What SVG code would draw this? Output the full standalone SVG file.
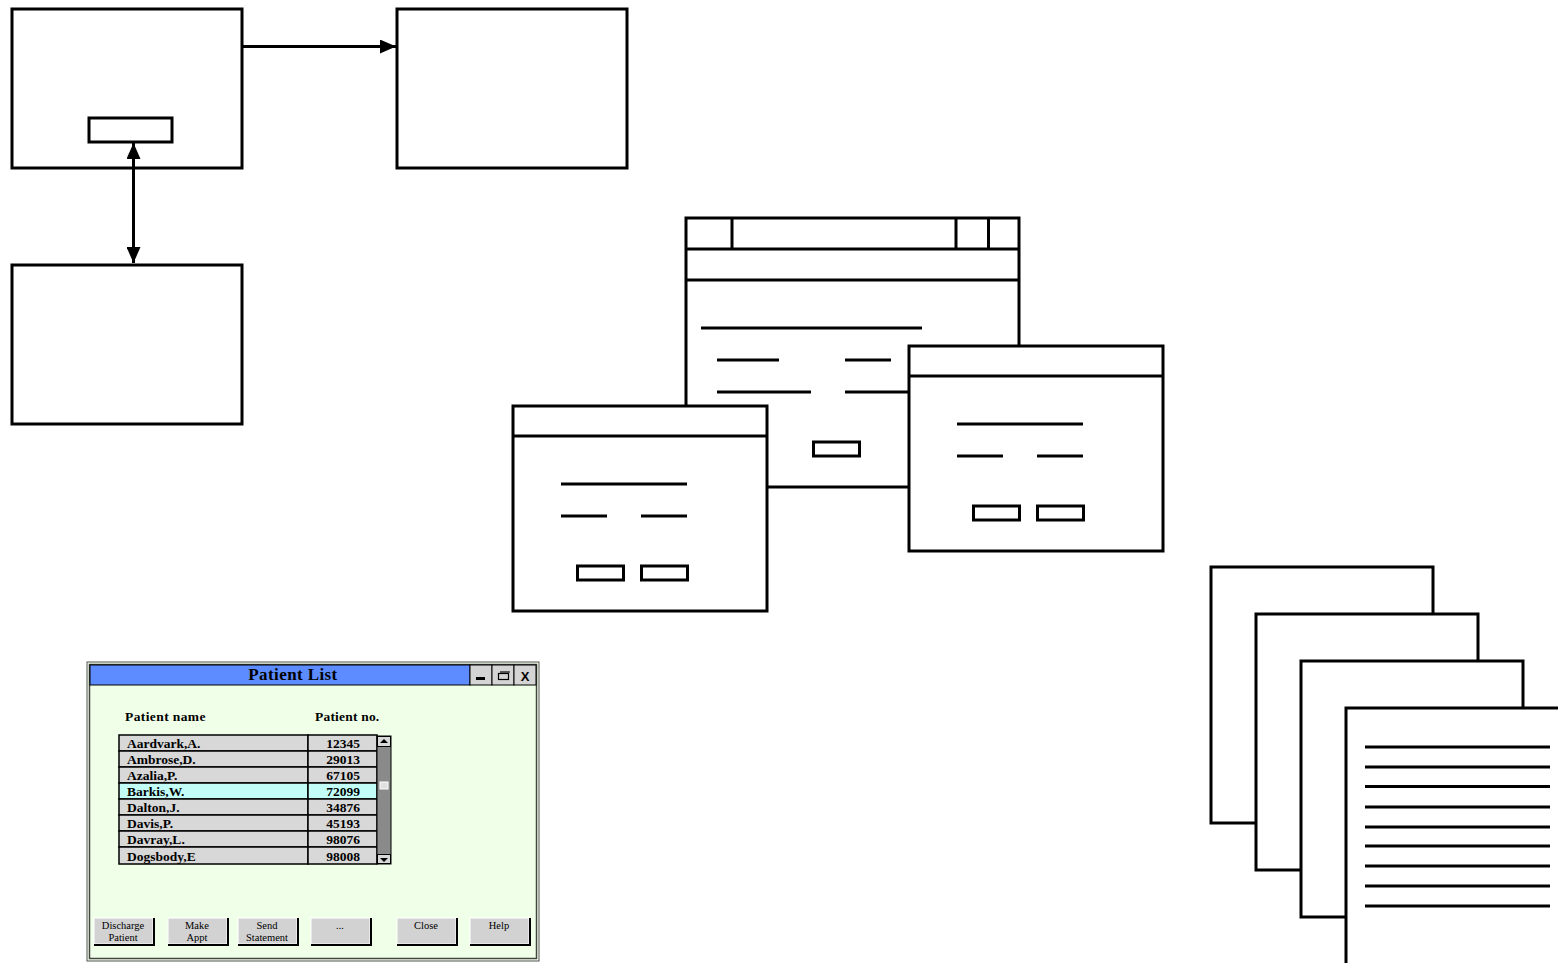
<svg xmlns="http://www.w3.org/2000/svg" width="1558" height="963" viewBox="0 0 1558 963">
<style>
.bx{fill:#fff;stroke:#000;stroke-width:3}
.ln{stroke:#000;stroke-width:3;fill:none}
.dl{stroke:#000;stroke-width:3}
.cell{fill:#d8d8d8;stroke:#000;stroke-width:1.5}
.hl{fill:#c2fdf8;stroke:#000;stroke-width:1.5}
.tx{font-family:"Liberation Serif",serif;font-weight:bold;font-size:13.5px;fill:#000}
.btn{fill:#d2d2d2;stroke:#fff;stroke-width:1}
.bsh{stroke:#000;stroke-width:2;fill:none}
.bt{font-family:"Liberation Serif",serif;font-size:10.5px;fill:#000;text-anchor:middle}
</style>
<defs>
<marker id="ah" markerWidth="16" markerHeight="14" refX="16" refY="7" orient="auto-start-reverse" markerUnits="userSpaceOnUse">
<path d="M0,0 L16,7 L0,14 Z" fill="#000"/>
</marker>
</defs>

<g id="box-main">
<rect class="bx" x="12" y="9" width="230" height="159"/>
<rect class="bx" x="89" y="118" width="83" height="24"/>
</g>
<g id="box-right">
<rect class="bx" x="397" y="9" width="230" height="159"/>
</g>
<g id="box-bottom">
<rect class="bx" x="12" y="265" width="230" height="159"/>
</g>

<g id="connectors">
<line class="ln" x1="243" y1="46.5" x2="396" y2="46.5" marker-end="url(#ah)"/>
<line class="ln" x1="133.5" y1="143" x2="133.5" y2="263" marker-start="url(#ah)" marker-end="url(#ah)"/>
</g>

<g id="window-back">
<rect class="bx" x="686" y="218" width="333" height="269"/>
<line class="ln" x1="686" y1="249" x2="1019" y2="249"/>
<line class="ln" x1="686" y1="280" x2="1019" y2="280"/>
<line class="ln" x1="732" y1="218" x2="732" y2="249"/>
<line class="ln" x1="956" y1="218" x2="956" y2="249"/>
<line class="ln" x1="988.5" y1="218" x2="988.5" y2="249"/>
<line class="ln" x1="701" y1="328" x2="922" y2="328"/>
<line class="ln" x1="717" y1="360" x2="779" y2="360"/>
<line class="ln" x1="845" y1="360" x2="891" y2="360"/>
<line class="ln" x1="717" y1="392" x2="811" y2="392"/>
<line class="ln" x1="845" y1="392" x2="909" y2="392"/>
<rect class="bx" x="813.5" y="442" width="46" height="14"/>
</g>
<g id="window-left">
<rect class="bx" x="513" y="406" width="254" height="205"/>
<line class="ln" x1="513" y1="436" x2="767" y2="436"/>
<line class="ln" x1="561" y1="484" x2="687" y2="484"/>
<line class="ln" x1="561" y1="516" x2="607" y2="516"/>
<line class="ln" x1="641" y1="516" x2="687" y2="516"/>
<rect class="bx" x="577.5" y="566" width="46" height="14"/>
<rect class="bx" x="641.5" y="566" width="46" height="14"/>
</g>
<g id="window-right">
<rect class="bx" x="909" y="346" width="254" height="205"/>
<line class="ln" x1="909" y1="376" x2="1163" y2="376"/>
<line class="ln" x1="957" y1="424" x2="1083" y2="424"/>
<line class="ln" x1="957" y1="456" x2="1003" y2="456"/>
<line class="ln" x1="1037" y1="456" x2="1083" y2="456"/>
<rect class="bx" x="973.5" y="506" width="46" height="14"/>
<rect class="bx" x="1037.5" y="506" width="46" height="14"/>
</g>

<g id="doc-1"><rect class="bx" x="1211" y="567" width="222" height="256"/></g>
<g id="doc-2"><rect class="bx" x="1256" y="614" width="222" height="256"/></g>
<g id="doc-3"><rect class="bx" x="1301" y="661" width="222" height="256"/></g>
<g id="doc-4">
<rect class="bx" x="1346" y="708" width="230" height="270"/>
<line class="dl" x1="1365" y1="747" x2="1550" y2="747"/>
<line class="dl" x1="1365" y1="767" x2="1550" y2="767"/>
<line class="dl" x1="1365" y1="786.5" x2="1550" y2="786.5"/>
<line class="dl" x1="1365" y1="807" x2="1550" y2="807"/>
<line class="dl" x1="1365" y1="827" x2="1550" y2="827"/>
<line class="dl" x1="1365" y1="846" x2="1550" y2="846"/>
<line class="dl" x1="1365" y1="866" x2="1550" y2="866"/>
<line class="dl" x1="1365" y1="886" x2="1550" y2="886"/>
<line class="dl" x1="1365" y1="906" x2="1550" y2="906"/>
</g>

<g id="patient-list">
<rect x="87" y="662" width="452" height="299" fill="#f0ffe7" stroke="#555" stroke-width="1"/>
<rect x="89.5" y="664.5" width="447" height="294" fill="none" stroke="#444" stroke-width="1.5"/>
<rect x="90" y="665" width="380" height="20" fill="#5c8cff" stroke="#000" stroke-width="1"/>
<text x="293" y="680" class="tx" style="font-size:17px;letter-spacing:0.4px" text-anchor="middle">Patient List</text>
<rect x="470" y="665" width="22" height="20" fill="#d4d4d4" stroke="#000" stroke-width="1"/>
<rect x="492" y="665" width="22" height="20" fill="#d4d4d4" stroke="#000" stroke-width="1"/>
<rect x="514" y="665" width="22" height="20" fill="#d4d4d4" stroke="#000" stroke-width="1"/>
<rect x="476" y="677" width="9" height="3" fill="#000"/>
<rect x="498.5" y="673.5" width="10" height="6" fill="none" stroke="#000" stroke-width="1.2"/>
<line x1="500" y1="672" x2="510" y2="672" stroke="#000" stroke-width="1.2"/>
<text x="525" y="681" text-anchor="middle" style="font-family:'Liberation Sans',sans-serif;font-weight:bold;font-size:13px">X</text>
<text x="125" y="721" class="tx" style="letter-spacing:0.4px">Patient name</text>
<text x="315" y="721" class="tx" style="letter-spacing:0.2px">Patient no.</text>

<rect class="cell" x="119" y="735" width="189" height="16"/><rect class="cell" x="308" y="735" width="69" height="16"/>
<rect class="cell" x="119" y="751" width="189" height="16"/><rect class="cell" x="308" y="751" width="69" height="16"/>
<rect class="cell" x="119" y="767" width="189" height="16"/><rect class="cell" x="308" y="767" width="69" height="16"/>
<rect class="hl" x="119" y="783" width="189" height="16"/><rect class="hl" x="308" y="783" width="69" height="16"/>
<rect class="cell" x="119" y="799" width="189" height="16"/><rect class="cell" x="308" y="799" width="69" height="16"/>
<rect class="cell" x="119" y="815" width="189" height="16"/><rect class="cell" x="308" y="815" width="69" height="16"/>
<rect class="cell" x="119" y="831" width="189" height="16"/><rect class="cell" x="308" y="831" width="69" height="16"/>
<rect class="cell" x="119" y="847" width="189" height="17"/><rect class="cell" x="308" y="847" width="69" height="17"/>
<text x="127" y="748" class="tx">Aardvark,A.</text><text x="343" y="748" class="tx" text-anchor="middle">12345</text>
<text x="127" y="764" class="tx">Ambrose,D.</text><text x="343" y="764" class="tx" text-anchor="middle">29013</text>
<text x="127" y="780" class="tx">Azalia,P.</text><text x="343" y="780" class="tx" text-anchor="middle">67105</text>
<text x="127" y="796" class="tx">Barkis,W.</text><text x="343" y="796" class="tx" text-anchor="middle">72099</text>
<text x="127" y="812" class="tx">Dalton,J.</text><text x="343" y="812" class="tx" text-anchor="middle">34876</text>
<text x="127" y="828" class="tx">Davis,P.</text><text x="343" y="828" class="tx" text-anchor="middle">45193</text>
<text x="127" y="844" class="tx">Davray,L.</text><text x="343" y="844" class="tx" text-anchor="middle">98076</text>
<text x="127" y="861" class="tx">Dogsbody,E</text><text x="343" y="861" class="tx" text-anchor="middle">98008</text>

<rect x="377" y="736" width="14" height="128" fill="#8a8a8a" stroke="#000" stroke-width="1"/>
<rect x="377.5" y="736.5" width="13" height="10" fill="#d8d8d8" stroke="#000" stroke-width="1"/>
<path d="M380,743 L384,739 L388,743 Z" fill="#000"/>
<rect x="377.5" y="854.5" width="13" height="9" fill="#d8d8d8" stroke="#000" stroke-width="1"/>
<path d="M380,858 L384,862 L388,858 Z" fill="#000"/>
<rect x="380" y="782" width="8" height="7" fill="#e0e0e0" stroke="#fff" stroke-width="1"/>

<rect class="btn" x="94" y="918" width="59" height="26"/><path class="bsh" d="M154,918 V945 H94"/>
<rect class="btn" x="168" y="918" width="59" height="26"/><path class="bsh" d="M228,918 V945 H168"/>
<rect class="btn" x="238" y="918" width="59" height="26"/><path class="bsh" d="M298,918 V945 H238"/>
<rect class="btn" x="311" y="918" width="59" height="26"/><path class="bsh" d="M371,918 V945 H311"/>
<rect class="btn" x="397" y="918" width="59" height="26"/><path class="bsh" d="M457,918 V945 H397"/>
<rect class="btn" x="470" y="918" width="59" height="26"/><path class="bsh" d="M530,918 V945 H470"/>
<text x="123" y="929" class="bt">Discharge</text><text x="123" y="941" class="bt">Patient</text>
<text x="197" y="929" class="bt">Make</text><text x="197" y="941" class="bt">Appt</text>
<text x="267" y="929" class="bt">Send</text><text x="267" y="941" class="bt">Statement</text>
<text x="340" y="929" class="bt">...</text>
<text x="426" y="929" class="bt">Close</text>
<text x="499" y="929" class="bt">Help</text>
</g>
</svg>
